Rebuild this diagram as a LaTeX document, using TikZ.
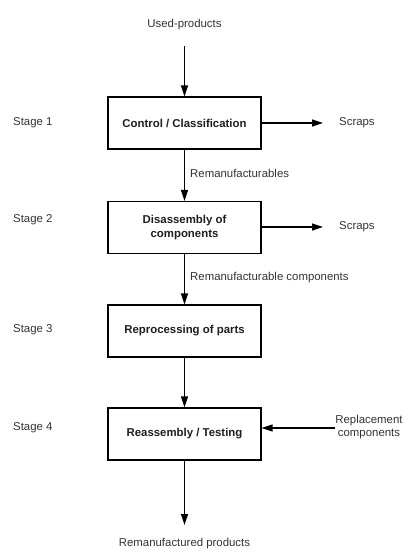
\documentclass[tikz,border=0pt]{standalone}
\usepackage{fontspec}
\setmainfont{Liberation Sans}
\usetikzlibrary{arrows.meta}
\definecolor{txt}{HTML}{333333}
\definecolor{btxt}{HTML}{1E1E1E}
\tikzset{
  stagebox/.style={draw=black, line width=1.1pt, minimum width=153pt, minimum height=52pt, inner sep=0pt, align=center, font=\fontsize{11.4}{14}\selectfont\bfseries, text=btxt},
  lbl/.style={font=\fontsize{11.4}{13.5}\selectfont, text=txt, inner sep=0pt, align=center},
  arr/.style={line width=1.2pt, -{Triangle[length=11pt,width=7pt]}}
}
\begin{document}
\begin{tikzpicture}[x=1pt,y=-1pt]
\useasboundingbox (0,0) rectangle (414,557);
\node[stagebox] (b1) at (184.5,123) {Control / Classification};
\node[stagebox] (b2) at (184.5,227.5) {Disassembly of\\components};
\node[stagebox] (b3) at (184.5,331) {Reprocessing of parts};
\node[stagebox] (b4) at (184.5,434) {Reassembly / Testing};

\node[lbl] (used) at (184.5,25) {Used-products};
\node[lbl, anchor=west] (s1) at (13,123) {Stage 1};
\node[lbl, anchor=west] (s2) at (13,220) {Stage 2};
\node[lbl, anchor=west] (s3) at (13,330) {Stage 3};
\node[lbl, anchor=west] (s4) at (13,428) {Stage 4};
\node[lbl, anchor=west] (sc1) at (339,123) {Scraps};
\node[lbl, anchor=west] (sc2) at (339,227) {Scraps};
\node[lbl, anchor=west] (l1) at (190,173) {Remanufacturables};
\node[lbl, anchor=west] (l2) at (190,278) {Remanufacturable components};
\node[lbl] (repl) at (369,427) {Replacement\\components};
\node[lbl] (out) at (184.5,544) {Remanufactured products};

\coordinate (u0) at (184.5,46);
\coordinate (sc1e) at (323,123);
\coordinate (sc2e) at (323,227);
\coordinate (rs) at (335,428);
\coordinate (oe) at (184.5,525);

\draw[arr] (u0) -- (b1.north);
\draw[arr] (b1.south) -- (b2.north);
\draw[arr] (b2.south) -- (b3.north);
\draw[arr] (b3.south) -- (b4.north);
\draw[arr] (b4.south) -- (oe);
\draw[arr] (b1.east) -- (sc1e);
\draw[arr] (sc2e -| b2.east) -- (sc2e);
\draw[arr] (rs) -- (rs -| b4.east);
\end{tikzpicture}
\end{document}
